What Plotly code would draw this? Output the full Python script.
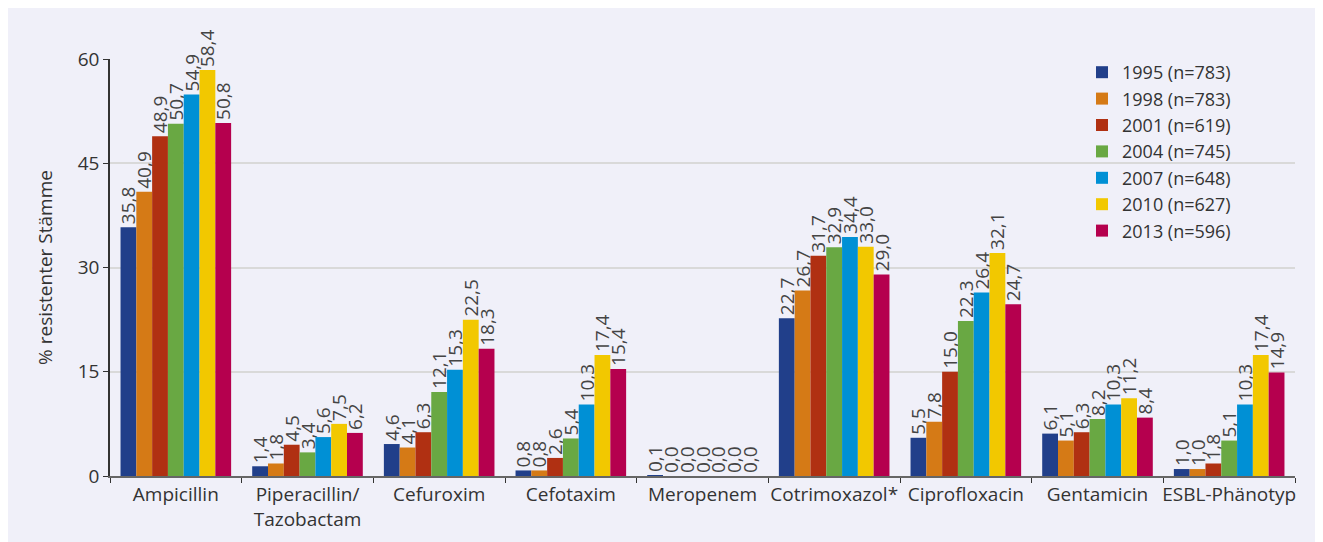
import plotly.graph_objects as go

categories = ["Ampicillin", "Piperacillin/<br>Tazobactam", "Cefuroxim", "Cefotaxim", "Meropenem",
              "Cotrimoxazol*", "Ciprofloxacin", "Gentamicin", "ESBL-Phänotyp"]
series_names = ["1995 (n=783)", "1998 (n=783)", "2001 (n=619)", "2004 (n=745)",
                "2007 (n=648)", "2010 (n=627)", "2013 (n=596)"]
v1995 = [35.8, 1.4, 4.6, 0.8, 0.1, 22.7, 5.5, 6.1, 1.0]
v1998 = [40.9, 1.8, 4.1, 0.8, 0.0, 26.7, 7.8, 5.1, 1.0]
v2001 = [48.9, 4.5, 6.3, 2.6, 0.0, 31.7, 15.0, 6.3, 1.8]
v2004 = [50.7, 3.4, 12.1, 5.4, 0.0, 32.9, 22.3, 8.2, 5.1]
v2007 = [54.9, 5.6, 15.3, 10.3, 0.0, 34.4, 26.4, 10.3, 10.3]
v2010 = [58.4, 7.5, 22.5, 17.4, 0.0, 33.0, 32.1, 11.2, 17.4]
v2013 = [50.8, 6.2, 18.3, 15.4, 0.0, 29.0, 24.7, 8.4, 14.9]
y_ticks = [0, 15, 30, 45, 60]

colors = ["#213f8a", "#d57a16", "#b03012", "#69a843", "#0090d5", "#f2c800", "#b5004e"]
all_values = [v1995, v1998, v2001, v2004, v2007, v2010, v2013]

FONT = "Open Sans"
fig = go.Figure()
for name, vals, col in zip(series_names, all_values, colors):
    fig.add_trace(go.Bar(
        x=categories, y=vals, name=name, marker_color=col, marker_line_width=0,
        text=[f"{v:.1f}".replace(".", ",") for v in vals],
        textposition="outside", textangle=-90, constraintext="none", cliponaxis=False,
        textfont=dict(family=FONT, size=19, color="#444444"),
    ))

# figure is drawn with an 8px page margin offset
W, H = 1323, 542
L, R, T, B = 102, 36, 51, 74
pw, ph = W - L - R, H - T - B

def px(x):
    return (x - L) / pw

def py(y):
    return (H - B - y) / ph

bg = "#f0f0f9"
fig.update_layout(
    width=W, height=H,
    margin=dict(l=L, r=R, t=T, b=B, pad=0, autoexpand=False),
    paper_bgcolor=bg, plot_bgcolor=bg,
    barmode="group", bargap=0.16, bargroupgap=0,
    font=dict(family=FONT, size=18, color="#333333"),
    legend=dict(x=px(1074), y=py(46), xanchor="left", yanchor="top",
                bgcolor="rgba(0,0,0,0)", font=dict(size=18, color="#333333"),
                tracegroupgap=0, itemwidth=30),
    xaxis=dict(showline=True, linecolor="#666666", linewidth=2, tickangle=0, automargin=False,
               ticks="outside", tickson="boundaries", ticklen=5, tickcolor="#333333",
               tickfont=dict(size=19, color="#333333")),
    yaxis=dict(range=[0, 60], tickvals=y_ticks, showline=True, linecolor="#333333", linewidth=1.5,
               ticks="outside", ticklen=5, tickcolor="#333333", automargin=False,
               showgrid=True, gridcolor="#d9d9d9", gridwidth=2, zeroline=False,
               tickfont=dict(size=19, color="#333333"),
               title=dict(text="% resistenter Stämme", font=dict(size=19, color="#333333"), standoff=20)),
)
fig.write_html("out.html")
